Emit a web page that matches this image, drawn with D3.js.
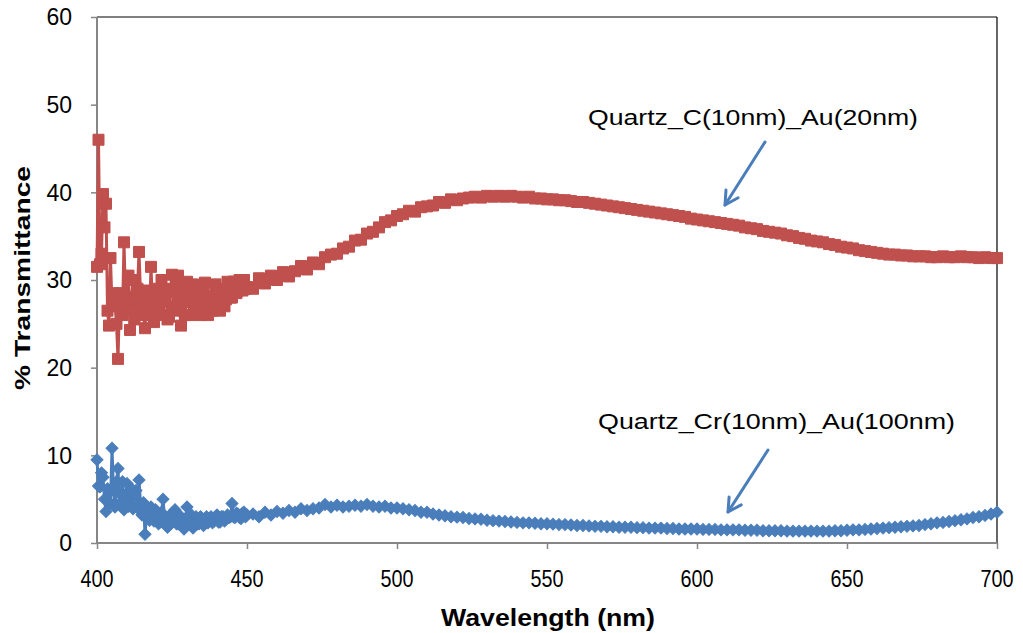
<!DOCTYPE html>
<html>
<head>
<meta charset="utf-8">
<script src="https://cdn.jsdelivr.net/npm/d3@7"></script>
<style>
  html, body { margin: 0; padding: 0; background: #fff; }
  svg { display: block; }
</style>
</head>
<body>
<svg id="chart" width="1023" height="633"></svg>
<script>
// ---------- DATA ----------
const xTicks = [400, 450, 500, 550, 600, 650, 700];
const yTicks = [0, 10, 20, 30, 40, 50, 60];
const seriesNames = ["Quartz_C(10nm)_Au(20nm)", "Quartz_Cr(10nm)_Au(100nm)"];

// wavelength grid (nm): 0.5 nm steps 400-450, 2 nm steps 452-700
const wavelength = d3.range(400, 450.25, 0.5).concat(d3.range(452, 701, 2));

// % transmittance, Quartz_C(10nm)_Au(20nm)
const redT = [
  31.5, 46.0, 31.8, 33.0, 39.8, 36.0, 38.7, 26.5, 24.8, 32.5,
  27.0, 28.5, 27.2, 25.0, 21.0, 27.5, 28.5, 26.0, 34.3, 28.0,
  27.0, 30.5, 24.3, 27.8, 30.0, 25.5, 26.5, 29.0, 33.2, 28.5,
  27.5, 26.0, 24.5, 28.8, 28.0, 26.0, 31.5, 27.0, 25.2, 28.0,
  29.0, 26.2, 27.5, 30.0, 26.0, 28.0, 28.8, 25.5, 25.8, 29.0,
  30.6, 27.0, 26.5, 29.5, 30.5, 26.8, 24.8, 27.5, 28.5, 26.0,
  29.8, 28.0, 26.0, 29.0, 29.5, 27.0, 27.0, 28.8, 28.0, 26.0,
  26.4, 28.5, 29.7, 27.5, 26.0, 28.2, 28.0, 26.5, 27.2, 29.5,
  29.0, 27.0, 26.5, 28.5, 28.6, 27.0, 27.8, 29.8, 29.6, 28.0,
  28.0, 29.8, 29.8, 28.5, 28.8, 30.0, 29.4, 28.8, 30.0, 29.0,
  29.2,
  29.0, 30.2, 29.6, 30.5, 30.0, 30.9, 30.4, 31.0, 31.6, 31.2,
  32.0, 31.8, 32.6, 32.9, 33.0, 33.6, 33.8, 34.5, 34.6, 35.3,
  35.5, 36.0, 36.6, 36.8, 37.3, 37.5, 37.9, 37.8, 38.3, 38.4,
  38.5, 38.9, 38.8, 39.2, 39.1, 39.3, 39.4, 39.5, 39.4, 39.6,
  39.5, 39.6, 39.5, 39.6, 39.5, 39.4, 39.5, 39.3, 39.3, 39.2,
  39.2, 39.1, 39.1, 39.0, 38.9, 38.9, 38.8, 38.7, 38.6, 38.5,
  38.4, 38.3, 38.2, 38.1, 38.0, 37.9, 37.8, 37.7, 37.6, 37.5,
  37.4, 37.3, 37.2, 37.0, 36.9, 36.8, 36.7, 36.6, 36.5, 36.4,
  36.3, 36.2, 36.0, 35.9, 35.8, 35.6, 35.5, 35.4, 35.3, 35.1,
  35.0, 34.8, 34.7, 34.5, 34.4, 34.3, 34.1, 34.0, 33.8, 33.7,
  33.6, 33.4, 33.3, 33.2, 33.1, 33.0, 32.9, 32.9, 32.8, 32.8,
  32.7, 32.7, 32.7, 32.6, 32.6, 32.7, 32.6, 32.6, 32.7, 32.6,
  32.6, 32.5, 32.6, 32.5, 32.5
];

// % transmittance, Quartz_Cr(10nm)_Au(100nm)
const blueT = [
  9.5, 6.5, 6.4, 8.0, 7.5, 5.0, 3.6, 6.2, 6.0, 4.5,
  10.8, 6.0, 4.1, 7.0, 8.5, 4.5, 5.5, 7.0, 3.8, 5.5,
  6.8, 4.2, 4.5, 6.2, 3.9, 5.5, 6.0, 4.0, 7.2, 4.5,
  3.2, 4.6, 1.0, 3.0, 4.0, 2.6, 4.1, 3.0, 2.5, 3.8,
  3.5, 2.2, 2.4, 3.5, 5.0, 3.0, 2.8, 1.8, 2.0, 3.2,
  3.4, 2.5, 3.8, 2.2, 2.2, 3.0, 3.0, 2.0, 1.6, 2.8,
  4.1, 2.6, 2.5, 3.2, 1.7, 2.6, 3.0, 2.2, 2.2, 3.0,
  2.8, 2.0, 2.6, 3.0, 2.3, 2.8, 3.0, 2.3, 2.5, 3.0,
  3.2, 2.4, 2.4, 3.0, 3.0, 2.5, 2.7, 3.2, 2.9, 3.0,
  4.5, 3.0, 2.9, 3.4, 3.3, 2.9, 2.8, 3.4, 3.5, 3.0,
  3.2,
  3.3, 3.0, 3.5, 3.2, 3.6, 3.4, 3.7, 3.5, 3.9, 3.7,
  3.9, 4.0, 4.4, 4.1, 4.3, 4.1, 4.2, 4.3, 4.2, 4.4,
  4.2, 4.1, 4.2, 4.0, 4.0, 3.9, 3.8, 3.7, 3.5, 3.5,
  3.3, 3.2, 3.1, 3.0, 2.95, 2.9, 2.8, 2.75, 2.7, 2.6,
  2.55, 2.5, 2.45, 2.4, 2.35, 2.3, 2.3, 2.25, 2.2, 2.2,
  2.15, 2.1, 2.1, 2.05, 2.0, 2.0, 1.95, 1.9, 1.9, 1.85,
  1.85, 1.8, 1.8, 1.8, 1.75, 1.75, 1.7, 1.7, 1.7, 1.65,
  1.65, 1.6, 1.6, 1.6, 1.6, 1.55, 1.55, 1.55, 1.5, 1.5,
  1.5, 1.5, 1.45, 1.45, 1.45, 1.4, 1.4, 1.4, 1.4, 1.35,
  1.35, 1.35, 1.35, 1.35, 1.35, 1.35, 1.35, 1.4, 1.4, 1.45,
  1.5, 1.5, 1.55, 1.6, 1.65, 1.7, 1.75, 1.8, 1.85, 1.9,
  1.95, 2.0, 2.1, 2.2, 2.3, 2.35, 2.45, 2.55, 2.65, 2.75,
  2.9, 3.0, 3.15, 3.3, 3.5
];

// ---------- LAYOUT ----------
const svg = d3.select("#chart");
const pLeft = 97, pRight = 997, pTop = 17, pBottom = 543;
const x = d3.scaleLinear().domain([400, 700]).range([pLeft, pRight]);
const y = d3.scaleLinear().domain([0, 60]).range([pBottom, pTop]);

const RED = "#C0504D", BLUE = "#4A7EBB", AXIS = "#868686";

// plot frame top/right (black)
svg.append("line").attr("x1", pLeft).attr("x2", pRight).attr("y1", pTop).attr("y2", pTop)
  .attr("stroke", "#000").attr("stroke-width", 1.2);
svg.append("line").attr("x1", pRight).attr("x2", pRight).attr("y1", pTop).attr("y2", pBottom)
  .attr("stroke", "#000").attr("stroke-width", 1.2);

// axes
const xAxis = d3.axisBottom(x).tickValues(xTicks).tickSize(6).tickFormat("");
const yAxis = d3.axisLeft(y).tickValues(yTicks).tickSize(6).tickFormat("");
const gx = svg.append("g").attr("transform", `translate(0,${pBottom})`).call(xAxis);
const gy = svg.append("g").attr("transform", `translate(${pLeft},0)`).call(yAxis);
[gx, gy].forEach(g => {
  g.select(".domain").attr("stroke", AXIS).attr("stroke-width", 2);
  g.selectAll(".tick line").attr("stroke", AXIS).attr("stroke-width", 1.5);
});
gx.select(".domain").attr("d", `M${pLeft},0H${pRight}`);
gy.select(".domain").attr("d", `M0,${pBottom}V${pTop}`);

// tick labels
svg.append("g").selectAll("text").data(yTicks).join("text")
  .attr("x", 72).attr("y", d => y(d)).attr("dy", "0.36em")
  .attr("text-anchor", "end")
  .attr("font-family", "Liberation Sans, Arial, sans-serif")
  .attr("font-size", 23).attr("fill", "#000")
  .text(d => d);

svg.append("g").selectAll("text").data(xTicks).join("text")
  .attr("x", d => x(d)).attr("y", 587)
  .attr("text-anchor", "middle")
  .attr("font-family", "Liberation Sans, Arial, sans-serif")
  .attr("font-size", 23).attr("fill", "#000")
  .attr("textLength", 33).attr("lengthAdjust", "spacingAndGlyphs")
  .text(d => d);

// axis titles
svg.append("text")
  .attr("x", 548).attr("y", 626).attr("text-anchor", "middle")
  .attr("font-family", "Liberation Sans, Arial, sans-serif")
  .attr("font-weight", "bold").attr("font-size", 23)
  .attr("textLength", 214).attr("lengthAdjust", "spacingAndGlyphs")
  .text("Wavelength (nm)");

svg.append("text")
  .attr("transform", "translate(30,278) rotate(-90)")
  .attr("text-anchor", "middle")
  .attr("font-family", "Liberation Sans, Arial, sans-serif")
  .attr("font-weight", "bold").attr("font-size", 22)
  .attr("textLength", 224).attr("lengthAdjust", "spacingAndGlyphs")
  .text("% Transmittance");

// ---------- SERIES ----------
const redData = wavelength.map((w, i) => ({ w, v: redT[i] }));
const blueData = wavelength.map((w, i) => ({ w, v: blueT[i] }));
const line = d3.line().x(d => x(d.w)).y(d => y(d.v));

function drawSeries(data, color, symbolType, size, rotate) {
  const g = svg.append("g");
  g.append("path").datum(data).attr("d", line)
    .attr("fill", "none").attr("stroke", color).attr("stroke-width", 3)
    .attr("stroke-linejoin", "round");
  const sym = d3.symbol().type(symbolType).size(size);
  g.selectAll("path.m").data(data).join("path").attr("class", "m")
    .attr("d", sym)
    .attr("transform", d => `translate(${x(d.w)},${y(d.v)}) rotate(${rotate})`)
    .attr("fill", color).attr("stroke", color).attr("stroke-width", 1);
}
drawSeries(blueData, BLUE, d3.symbolSquare, 72, 45);
drawSeries(redData, RED, d3.symbolSquare, 121, 0);

// ---------- ANNOTATIONS ----------
svg.append("text")
  .attr("x", 588).attr("y", 125)
  .attr("font-family", "Liberation Sans, Arial, sans-serif")
  .attr("font-size", 22).attr("fill", "#000")
  .attr("textLength", 330).attr("lengthAdjust", "spacingAndGlyphs")
  .text(seriesNames[0]);

svg.append("text")
  .attr("x", 598).attr("y", 429)
  .attr("font-family", "Liberation Sans, Arial, sans-serif")
  .attr("font-size", 22).attr("fill", "#000")
  .attr("textLength", 357).attr("lengthAdjust", "spacingAndGlyphs")
  .text(seriesNames[1]);

function arrow(x1, y1, x2, y2) {
  const g = svg.append("g").attr("stroke", BLUE).attr("stroke-width", 3)
    .attr("fill", "none").attr("stroke-linecap", "round").attr("stroke-linejoin", "round");
  g.append("line").attr("x1", x1).attr("y1", y1).attr("x2", x2).attr("y2", y2);
  const ang = Math.atan2(y2 - y1, x2 - x1);
  const L = 15, spread = 0.5;
  const p1 = [x2 - L * Math.cos(ang - spread), y2 - L * Math.sin(ang - spread)];
  const p2 = [x2 - L * Math.cos(ang + spread), y2 - L * Math.sin(ang + spread)];
  g.append("path").attr("d", `M${p1[0]},${p1[1]}L${x2},${y2}L${p2[0]},${p2[1]}`);
}
arrow(765, 142, 725, 205);
arrow(768, 450, 728, 512);
</script>
</body>
</html>
